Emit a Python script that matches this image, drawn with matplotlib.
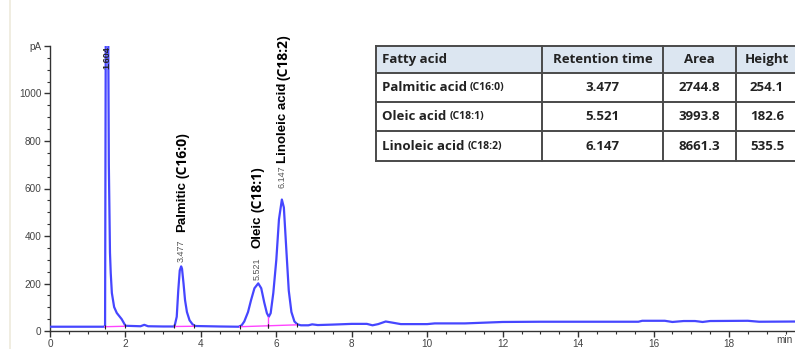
import matplotlib
matplotlib.use("Agg")
import matplotlib.pyplot as plt
from matplotlib.lines import Line2D
from matplotlib.patches import Rectangle

# --- chromatogram trace (min, pA) ---
trace_time = [0.00, 0.60, 1.20, 1.40, 1.46, 1.48, 1.54, 1.56, 1.59, 1.61, 1.64,
              1.70, 1.77, 1.90, 2.00, 2.40, 2.50, 2.60, 3.00, 3.30, 3.36, 3.40,
              3.44, 3.50, 3.54, 3.58, 3.63, 3.70, 3.78, 3.85, 4.50, 5.00, 5.08,
              5.15, 5.25, 5.33, 5.42, 5.60, 5.68, 5.75, 5.80, 5.85, 5.92, 6.00,
              6.07, 6.20, 6.27, 6.33, 6.40, 6.48, 6.56, 6.65, 6.85, 6.95, 7.10,
              7.50, 8.00, 8.40, 8.55, 8.70, 8.90, 9.05, 9.30, 10.0, 10.2, 11.0,
              11.5, 12.0, 13.0, 14.0, 15.6, 15.7, 16.3, 16.5, 16.8, 17.1, 17.3,
              17.5, 18.5, 18.8, 19.9]
trace_signal = [18, 18, 18, 18, 19, 1400, 1400, 700, 330, 244, 160,
                101, 76, 50, 22, 20, 26, 20, 19, 19, 60, 170,
                255, 262, 200, 130, 80, 45, 28, 21, 19, 18, 24,
                40, 80, 130, 180, 180, 120, 75, 60, 75, 160, 300,
                470, 520, 330, 170, 80, 40, 28, 24, 24, 28, 25,
                27, 30, 30, 24, 29, 40, 36, 29, 29, 32, 32,
                35, 38, 39, 39, 39, 43, 43, 38, 42, 42, 38,
                42, 43, 39, 40]

# --- integrated peaks (report table) ---
acids = ["Palmitic acid", "Oleic acid", "Linoleic acid"]
chains = ["(C16:0)", "(C18:1)", "(C18:2)"]
short_names = ["Palmitic", "Oleic", "Linoleic acid"]
ret_time = [3.477, 5.521, 6.147]
area = [2744.8, 3993.8, 8661.3]
height = [254.1, 182.6, 535.5]
baseline = 18
solvent_rt = 1.604

# integration baselines (start, end) in min, and valley drop-line
int_start = [1.45, 3.30, 5.03, 5.79]
int_end = [1.98, 3.82, 5.79, 6.55]
int_level = [(18, 20), (19, 20), (18, 22), (22, 26)]
valley_t, valley_y = 5.79, 60

# peak apexes come from the table values
pts = sorted(list(zip(trace_time, trace_signal)) +
             [(t, baseline + h) for t, h in zip(ret_time, height)])
xs = [p[0] for p in pts]
ys = [p[1] for p in pts]

W, H = 795, 349
fig = plt.figure(figsize=(W / 100, H / 100), dpi=100, facecolor="white")

def fx(px):
    return px / W

def fy(py):
    return 1 - py / H

ax = fig.add_axes([fx(50), 18 / H, 19.9 * 37.72 / W, 1200 * 0.2375 / H])
ax.set_xlim(0, 19.9)
ax.set_ylim(0, 1200)

# faint page edge on the left
fig.add_artist(Line2D([fx(10), fx(10)], [0, 1], color="#eeeadb", lw=1.2))

ax.plot(xs, ys, color="#4646ff", lw=1.6, zorder=3, solid_joinstyle="round")
for s, e, (y0, y1) in zip(int_start, int_end, int_level):
    ax.plot([s, e], [y0, y1], color="#ff44ff", lw=1.0, zorder=4)
    ax.plot([s, e], [y0, y1], ls="none", marker="|", ms=3, mew=0.8,
            color="#222222", zorder=5)
ax.plot([valley_t, valley_t], [22, valley_y], color="#ff44ff", lw=1.0, zorder=4)

for sp in ["top", "right"]:
    ax.spines[sp].set_visible(False)
for sp in ["left", "bottom"]:
    ax.spines[sp].set_color("#333333")
    ax.spines[sp].set_linewidth(1.0)

ax.set_xticks(range(0, 20, 2))
ax.set_xticks([i * 0.5 for i in range(0, 40)], minor=True)
ax.set_yticks(range(0, 1201, 200))
ax.set_yticklabels(["0", "200", "400", "600", "800", "1000", "pA"])
ax.set_yticks(range(0, 1201, 50), minor=True)
ax.tick_params(which="major", length=4, width=1, color="#333333",
               labelsize=7.2, labelcolor="#444444", pad=2)
ax.tick_params(which="minor", length=2.5, width=0.8, color="#333333")
for lab in ax.get_xticklabels() + ax.get_yticklabels():
    lab.set_family("Liberation Sans")
ax.text(793 / W, 0.012, "min", transform=fig.transFigure, ha="right",
        va="bottom", fontsize=7.2, color="#444444", family="Liberation Sans")

# retention time markers at the apexes
val_pos = [(3.47, 290), (5.49, 215), (6.15, 600)]
for rt, (x, y) in zip(ret_time, val_pos):
    ax.text(x, y, f"{rt:.3f}", rotation=90, ha="center", va="bottom",
            fontsize=6.5, color="#555555", family="Liberation Sans")
ax.text(1.52, 1198, f"{solvent_rt:.3f}", rotation=90, ha="center", va="top",
        fontsize=6.5, fontweight="bold", color="#222222",
        family="Liberation Sans", zorder=6)

# compound labels: bold name + chain notation
name_pos = [(3.50, 417), (5.49, 350), (6.18, 707)]
fig.canvas.draw()
renderer = fig.canvas.get_renderer()
for name, chain, (x, y) in zip(short_names, chains, name_pos):
    t = ax.text(x, y, name, rotation=90, ha="center", va="bottom",
                fontsize=9.5, fontweight="bold", color="black",
                family="Liberation Sans", clip_on=False)
    bb = t.get_window_extent(renderer)
    top = ax.transData.inverted().transform((0, bb.y1 + 3))[1]
    ax.text(x, top, chain, rotation=90, ha="center", va="bottom",
            fontsize=10, fontweight="bold", color="black",
            family="Open Sans", clip_on=False)

# --- report table ---
col_edges = [376, 542, 663, 736, 798]
row_edges = [46, 73, 102, 131, 161]
header = ["Fatty acid", "Retention time", "Area", "Height"]
fig.add_artist(Rectangle((fx(col_edges[0]), fy(row_edges[1])),
                         fx(col_edges[-1] - col_edges[0]),
                         (row_edges[1] - row_edges[0]) / H,
                         facecolor="#dce6f1", edgecolor="none"))
for c in col_edges:
    fig.add_artist(Line2D([fx(c), fx(c)], [fy(row_edges[0]), fy(row_edges[-1])],
                          color="#4a4a4a", lw=1.4))
for r in row_edges:
    fig.add_artist(Line2D([fx(col_edges[0]), fx(col_edges[-1])], [fy(r), fy(r)],
                          color="#4a4a4a", lw=1.4))

def cell_mid(i):
    return fy((row_edges[i] + row_edges[i + 1]) / 2)

def col_mid(j):
    return fx((col_edges[j] + col_edges[j + 1]) / 2)

tkw = dict(fontsize=9.5, fontweight="bold", color="#222222", family="Open Sans",
           va="center")
fig.text(fx(382), cell_mid(0), header[0], ha="left", **tkw)
for j in range(1, 4):
    fig.text(col_mid(j), cell_mid(0), header[j], ha="center", **tkw)

for i in range(3):
    y = cell_mid(i + 1)
    t = fig.text(fx(382), y, acids[i], ha="left", **tkw)
    bb = t.get_window_extent(renderer)
    fig.text((bb.x1 + 3) / W, y, chains[i], ha="left", va="center",
             fontsize=7.5, fontweight="bold", color="#222222", family="Open Sans")
    fig.text(col_mid(1), y, f"{ret_time[i]:.3f}", ha="center", **tkw)
    fig.text(col_mid(2), y, f"{area[i]:.1f}", ha="center", **tkw)
    fig.text(col_mid(3), y, f"{height[i]:.1f}", ha="center", **tkw)

fig.savefig("out.png", dpi=100, facecolor="white")
